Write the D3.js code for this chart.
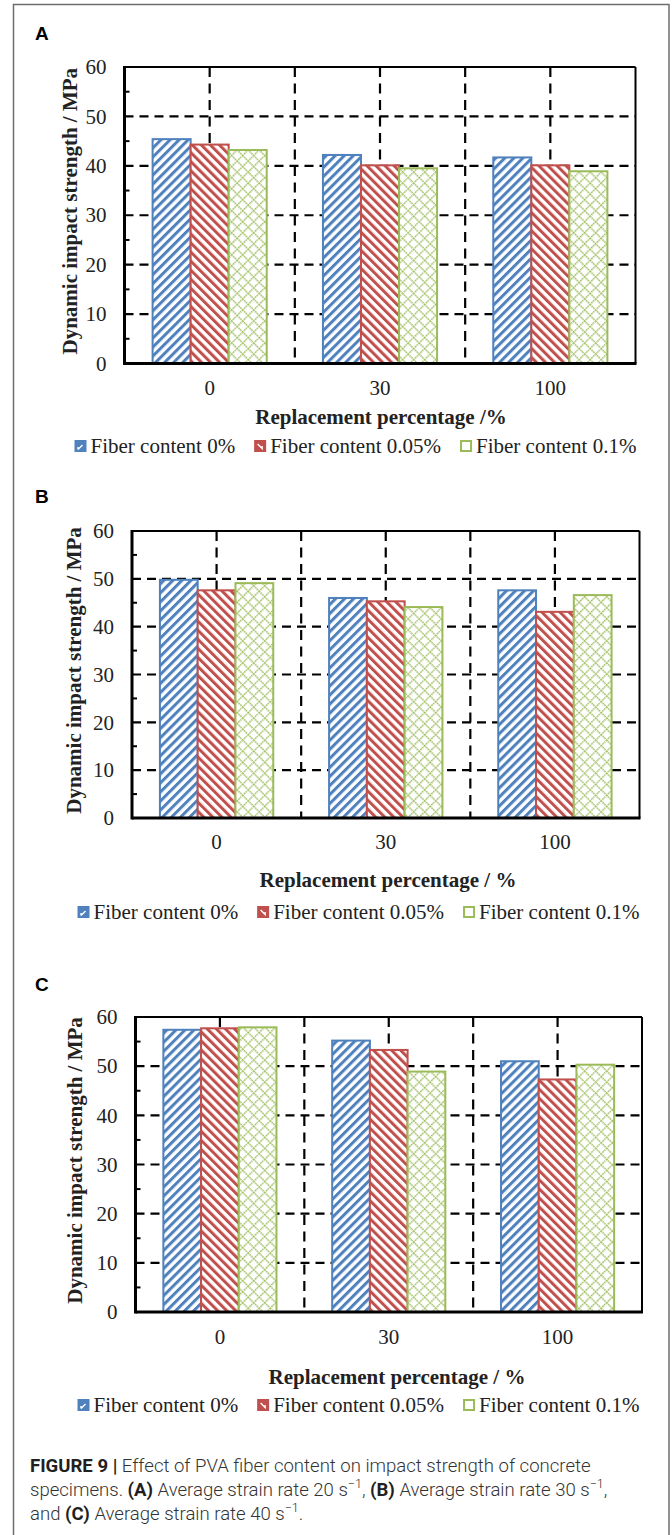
<!DOCTYPE html>
<html>
<head>
<meta charset="utf-8">
<script src="https://cdn.jsdelivr.net/npm/d3@7"></script>
<style>
  body { margin: 0; background: #fff; }
  svg { display: block; }
</style>
</head>
<body>
<svg width="672" height="1535"></svg>
<script>
// ************** Data *****************

const categories = ["0", "30", "100"];                      // replacement percentage
const seriesNames = ["Fiber content 0%", "Fiber content 0.05%", "Fiber content 0.1%"];
const yTicks = [0, 10, 20, 30, 40, 50, 60];
const yMinorTicks = [5, 15, 25, 35, 45, 55];

// (A) average strain rate 20 s-1
const fiber0_A   = [45.4, 42.2, 41.7];
const fiber005_A = [44.3, 40.1, 40.1];
const fiber01_A  = [43.2, 39.5, 38.9];

// (B) average strain rate 30 s-1
const fiber0_B   = [49.8, 46.0, 47.6];
const fiber005_B = [47.6, 45.3, 43.1];
const fiber01_B  = [49.1, 44.1, 46.6];

// (C) average strain rate 40 s-1
const fiber0_C   = [57.4, 55.2, 51.0];
const fiber005_C = [57.7, 53.3, 47.3];
const fiber01_C  = [57.9, 48.9, 50.3];

const xTitles = ["Replacement percentage /%", "Replacement percentage / %", "Replacement percentage / %"];
const yTitle = "Dynamic impact strength / MPa";


// *************** Layout / style *****************

const colors = ["#4f81bd", "#c0504d", "#9bbb59"];
const serif = "'Liberation Serif', 'Times New Roman', serif";
const fs = 21;

// where each panel sits on the page
const layouts = [
  { letter: "A", letterY: 40, left: 124.5, right: 635.5, top: 67,   bottom: 363.5, tickY: 24.5, titleX: 381, titleY: 417,  yTitleX: 70, legendX: 75, legendY: 446 },
  { letter: "B", letterY: 503, left: 132,  right: 639.5, top: 531,  bottom: 818,   tickY: 24,   titleX: 388, titleY: 880,  yTitleX: 74, legendX: 78, legendY: 912 },
  { letter: "C", letterY: 991, left: 135.5, right: 642,  top: 1017, bottom: 1312,  tickY: 25,   titleX: 397, titleY: 1377, yTitleX: 75, legendX: 78, legendY: 1405 }
];
const panelSeries = [
  [fiber0_A, fiber005_A, fiber01_A],
  [fiber0_B, fiber005_B, fiber01_B],
  [fiber0_C, fiber005_C, fiber01_C]
];

let svg = d3.select("svg");

// outer frame of the figure
svg.append("rect")
  .attr("x", 13.5).attr("y", 4.5)
  .attr("width", 655.5).attr("height", 1560)
  .attr("fill", "none").attr("stroke", "#6e6e6e").attr("stroke-width", 1.5);


// *************** Patterns *****************

let defs = svg.append("defs");

function stripePattern(id, color, angle) {
  let p = defs.append("pattern")
    .attr("id", id)
    .attr("patternUnits", "userSpaceOnUse")
    .attr("width", 6.4).attr("height", 6.4)
    .attr("patternTransform", "rotate(" + angle + ")");
  p.append("rect").attr("width", 6.4).attr("height", 6.4).attr("fill", "#fff");
  p.append("rect").attr("width", 3.0).attr("height", 6.4).attr("fill", color);
}
stripePattern("pat0", colors[0], 45);      // upward diagonal  /
stripePattern("pat1", colors[1], -45);     // downward diagonal \

// dotted diamond lattice
let dp = defs.append("pattern")
  .attr("id", "pat2")
  .attr("patternUnits", "userSpaceOnUse")
  .attr("width", 7.8).attr("height", 7.8)
  .attr("patternTransform", "rotate(45)");
dp.append("rect").attr("width", 7.8).attr("height", 7.8).attr("fill", "#fff");
dp.append("line").attr("x1", 0).attr("y1", 0.7).attr("x2", 7.8).attr("y2", 0.7)
  .attr("stroke", colors[2]).attr("stroke-width", 1.4).attr("stroke-dasharray", "1.8,0.8");
dp.append("line").attr("x1", 0.7).attr("y1", 0).attr("x2", 0.7).attr("y2", 7.8)
  .attr("stroke", colors[2]).attr("stroke-width", 1.4).attr("stroke-dasharray", "1.8,0.8");


// *************** Panels *****************

function drawPanel(L, series, xTitle) {
  let g = svg.append("g");

  let yScale = d3.scaleLinear().domain([0, 60]).range([L.bottom, L.top]);
  let xScale = d3.scaleBand().domain(categories).range([L.left, L.right]).padding(0);
  let groupW = xScale.bandwidth() * 0.67;
  let xSeries = d3.scaleBand().domain(d3.range(series.length)).range([0, groupW]).padding(0);

  // panel letter
  g.append("text")
    .attr("x", 35).attr("y", L.letterY)
    .attr("font-family", "'Liberation Sans', Arial, sans-serif")
    .attr("font-weight", "bold").attr("font-size", 19)
    .text(L.letter);

  // dashed gridlines (behind bars)
  g.selectAll(".hgrid")
    .data(yTicks.filter(d => d > 0 && d < 60))
    .enter().append("line")
    .attr("x1", L.left).attr("x2", L.right)
    .attr("y1", d => yScale(d)).attr("y2", d => yScale(d))
    .attr("stroke", "#000").attr("stroke-width", 2.2).attr("stroke-dasharray", "9,6");

  let vLines = [];
  categories.forEach(function (c, i) {
    if (i > 0) vLines.push(xScale(c));
    vLines.push(xScale(c) + xScale.bandwidth() / 2);
  });
  g.selectAll(".vgrid")
    .data(vLines)
    .enter().append("line")
    .attr("x1", d => d).attr("x2", d => d)
    .attr("y1", L.top).attr("y2", L.bottom)
    .attr("stroke", "#000").attr("stroke-width", 2.2).attr("stroke-dasharray", "10,6.5");

  // bars
  series.forEach(function (vals, s) {
    g.selectAll(".bar" + s)
      .data(vals)
      .enter().append("rect")
      .attr("x", (d, i) => xScale(categories[i]) + (xScale.bandwidth() - groupW) / 2 + xSeries(s))
      .attr("y", d => yScale(d))
      .attr("width", xSeries.bandwidth())
      .attr("height", d => L.bottom - yScale(d))
      .attr("fill", "url(#pat" + s + ")")
      .attr("stroke", colors[s]).attr("stroke-width", 2);
  });

  // plot frame
  g.append("line").attr("x1", L.left).attr("x2", L.right).attr("y1", L.top).attr("y2", L.top)
    .attr("stroke", "#000").attr("stroke-width", 2);
  g.append("line").attr("x1", L.right).attr("x2", L.right).attr("y1", L.top).attr("y2", L.bottom)
    .attr("stroke", "#000").attr("stroke-width", 2);
  g.append("line").attr("x1", L.left).attr("x2", L.left).attr("y1", L.top - 1).attr("y2", L.bottom + 1.5)
    .attr("stroke", "#000").attr("stroke-width", 3);
  g.append("line").attr("x1", L.left).attr("x2", L.right + 1).attr("y1", L.bottom).attr("y2", L.bottom)
    .attr("stroke", "#000").attr("stroke-width", 3);

  // minor ticks, pointing in
  g.selectAll(".minor")
    .data(yMinorTicks)
    .enter().append("line")
    .attr("x1", L.left).attr("x2", L.left + 5)
    .attr("y1", d => yScale(d)).attr("y2", d => yScale(d))
    .attr("stroke", "#000").attr("stroke-width", 2);

  // y axis labels
  let yAxis = g.append("g")
    .attr("transform", "translate(" + L.left + ",0)")
    .call(d3.axisLeft(yScale).tickValues(yTicks).tickSize(0).tickPadding(18));
  yAxis.select(".domain").remove();
  yAxis.selectAll("text")
    .attr("font-family", serif).attr("font-size", fs).attr("fill", "#222");

  // x axis labels
  let xAxis = g.append("g")
    .attr("transform", "translate(0," + L.bottom + ")")
    .call(d3.axisBottom(xScale).tickSize(0));
  xAxis.select(".domain").remove();
  xAxis.selectAll("text")
    .attr("y", L.tickY).attr("dy", "0.35em")
    .attr("font-family", serif).attr("font-size", fs).attr("fill", "#222");

  // axis titles
  g.append("text")
    .attr("x", L.titleX).attr("y", L.titleY).attr("dy", "0.35em")
    .attr("text-anchor", "middle")
    .attr("font-family", serif).attr("font-weight", "bold").attr("font-size", fs).attr("fill", "#222")
    .text(xTitle);

  g.append("text")
    .attr("transform", "translate(" + L.yTitleX + "," + ((L.top + L.bottom) / 2 - 4) + ") rotate(-90)")
    .attr("dy", "0.35em")
    .attr("text-anchor", "middle")
    .attr("font-family", serif).attr("font-weight", "bold").attr("font-size", fs).attr("fill", "#222")
    .text(yTitle);

  // legend
  let lx = L.legendX;
  seriesNames.forEach(function (name, s) {
    let item = g.append("g").attr("transform", "translate(" + lx + "," + L.legendY + ")");
    item.append("rect")
      .attr("x", 0.5).attr("y", -5).attr("width", 10).attr("height", 10)
      .attr("fill", s < 2 ? colors[s] : "#fff")
      .attr("stroke", colors[s]).attr("stroke-width", 2);
    if (s === 0) {
      item.append("path").attr("d", "M3,3.5 L7.5,-1 M3,3.5 L3,1").attr("stroke", "#fff").attr("stroke-width", 1.4).attr("fill", "none");
    } else if (s === 1) {
      item.append("path").attr("d", "M3,-2 L7.5,2.5 L7.5,0").attr("stroke", "#fff").attr("stroke-width", 1.4).attr("fill", "none");
    }
    let t = item.append("text")
      .attr("x", 15.5).attr("dy", "0.35em")
      .attr("font-family", serif).attr("font-size", fs).attr("fill", "#222")
      .text(name);
    lx += 15.5 + t.node().getComputedTextLength() + 19.5;
  });
}

layouts.forEach(function (L, i) {
  drawPanel(L, panelSeries[i], xTitles[i]);
});


// *************** Caption *****************

const captionLines = [
  [["b", "FIGURE 9 |"], ["r", " Effect of PVA fiber content on impact strength of concrete"]],
  [["r", "specimens. "], ["b", "(A)"], ["r", " Average strain rate 20 s"], ["s", "\u22121"], ["r", ", "],
   ["b", "(B)"], ["r", " Average strain rate 30 s"], ["s", "\u22121"], ["r", ","]],
  [["r", "and "], ["b", "(C)"], ["r", " Average strain rate 40 s"], ["s", "\u22121"], ["r", "."]]
];

let cap = svg.append("g");
let capTexts = [];
captionLines.forEach(function (parts, li) {
  let t = cap.append("text")
    .attr("x", 30).attr("y", 1472 + li * 24)
    .attr("font-family", "Roboto, 'Liberation Sans', Arial, sans-serif")
    .attr("font-size", 18.5).attr("font-weight", 300).attr("fill", "#333");
  parts.forEach(function (p) {
    let ts = t.append("tspan").text(p[1]);
    if (p[0] === "b") ts.attr("font-weight", "bold").attr("fill", "#231f20");
    if (p[0] === "s") ts.attr("font-size", 12.5).attr("baseline-shift", "60%");
  });
  capTexts.push(t);
});
// squeeze the caption to the narrow face of the original
let sx = 561 / capTexts[0].node().getComputedTextLength();
cap.attr("transform", "translate(30,0) scale(" + sx + ",1) translate(-30,0)");
</script>
</body>
</html>
